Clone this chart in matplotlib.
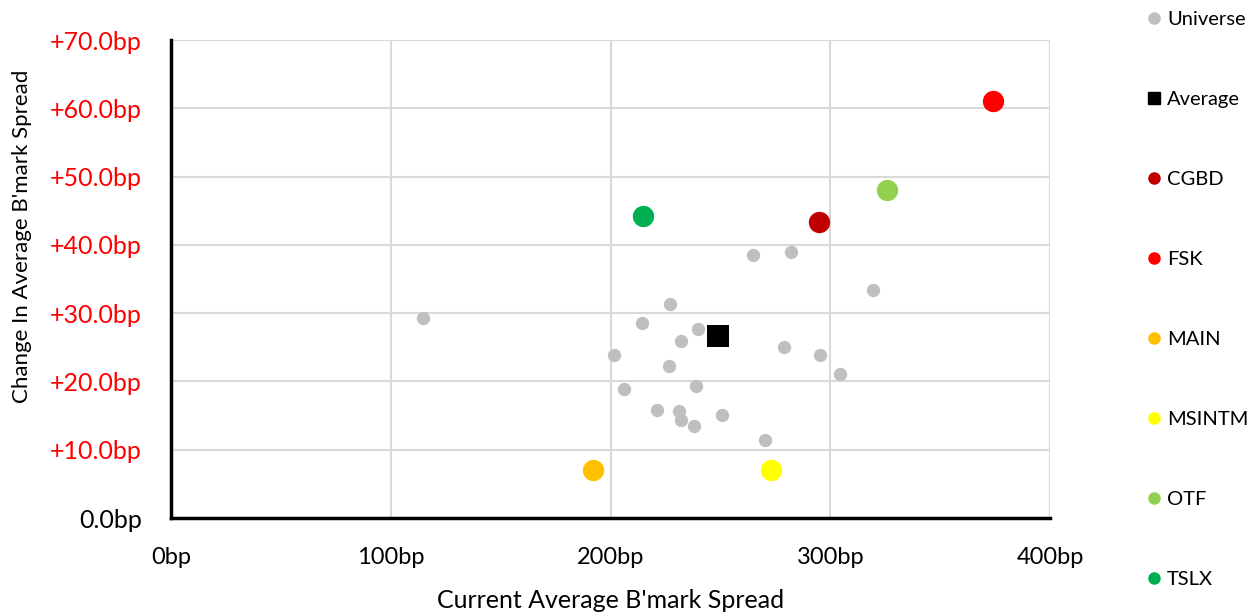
import matplotlib.pyplot as plt
from matplotlib.lines import Line2D
from matplotlib.ticker import FuncFormatter

plt.rcParams['font.family'] = ['Lato', 'DejaVu Sans']

# ---- data (bp) ----
universe_x = [114.5, 264.8, 282.1, 319.4, 227.3, 214.2, 239.8, 232.1, 201.8, 278.9,
              295.5, 304.5, 226.7, 206.0, 238.8, 221.2, 231.2, 232.1, 250.6, 238.2, 270.1]
universe_y = [29.3, 38.5, 39.0, 33.4, 31.4, 28.6, 27.7, 25.9, 23.8, 25.0,
              23.9, 21.1, 22.3, 18.9, 19.4, 15.8, 15.6, 14.3, 15.1, 13.5, 11.4]
average_x = [249.1]
average_y = [26.6]

names = ['CGBD', 'FSK', 'MAIN', 'MSINTM', 'OTF', 'TSLX']
names_x = [295.0, 373.9, 192.1, 272.9, 326.0, 215.0]
names_y = [43.4, 61.1, 7.0, 7.0, 48.1, 44.2]
names_colors = ['#C00000', '#FF0000', '#FFC000', '#FFFF00', '#92D050', '#00B050']

x_ticks = [0, 100, 200, 300, 400]
y_ticks = [0, 10, 20, 30, 40, 50, 60, 70]

fig = plt.figure(figsize=(12.58, 6.16), dpi=100)
ax = fig.add_axes([171 / 1258, 1 - 518 / 616, (1050 - 171) / 1258, (518 - 40) / 616])

ax.scatter(universe_x, universe_y, s=92, color='#BFBFBF', zorder=3, linewidths=0)
ax.scatter(average_x, average_y, s=250, marker='s', color='black', zorder=4, linewidths=0)
for n, x, y, c in zip(names, names_x, names_y, names_colors):
    ax.scatter([x], [y], s=236, color=c, zorder=4, linewidths=0)

ax.set_xlim(0, 400)
ax.set_ylim(0, 70)
ax.set_xticks(x_ticks)
ax.set_yticks(y_ticks)
ax.xaxis.set_major_formatter(FuncFormatter(lambda v, p: f'{v:.0f}bp'))
ax.yaxis.set_major_formatter(FuncFormatter(lambda v, p: '0.0bp' if v == 0 else f'+{v:.1f}bp'))
ax.tick_params(axis='both', length=0)
ax.tick_params(axis='x', pad=21, labelsize=17)
ax.tick_params(axis='y', pad=21, labelsize=18)
for lbl, v in zip(ax.get_yticklabels(), y_ticks):
    lbl.set_color('black' if v == 0 else '#FF0000')

ax.grid(True, color='#D9D9D9', linewidth=1.5, zorder=0)
ax.set_axisbelow(True)
for s in ['top', 'right']:
    ax.spines[s].set_visible(False)
for s in ['left', 'bottom']:
    ax.spines[s].set_linewidth(2.5)
    ax.spines[s].set_color('black')
# right-most gridline at 400
ax.axvline(400, color='#D9D9D9', linewidth=1.5, zorder=0)

ax.set_xlabel("Current Average B'mark Spread", fontsize=18, labelpad=15)
ax.set_ylabel("Change In Average B'mark Spread", fontsize=16)
ax.yaxis.set_label_coords(-0.158, 0.59)

handles = [Line2D([], [], marker='o', linestyle='', color='#BFBFBF', markersize=8),
           Line2D([], [], marker='s', linestyle='', color='black', markersize=8)]
for c in names_colors:
    handles.append(Line2D([], [], marker='o', linestyle='', color=c, markersize=8))
labels = ['Universe', 'Average'] + names
fig.legend(handles, labels, loc='upper left', bbox_to_anchor=(1140 / 1258, 1 - 3 / 616),
           frameon=False, fontsize=14.5, labelspacing=3.12, handlelength=0.6,
           handletextpad=0.35, borderaxespad=0)

fig.savefig('out.png', dpi=100)
